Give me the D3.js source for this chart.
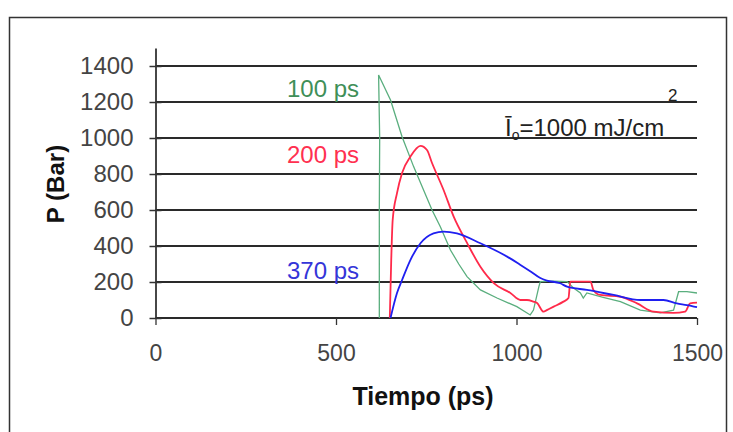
<!DOCTYPE html>
<html>
<head>
<meta charset="utf-8">
<script src="https://cdn.jsdelivr.net/npm/d3@7"></script>
<style>
  body { margin: 0; background: #fff; }
  text { font-family: "Liberation Sans", Arial, sans-serif; }
</style>
</head>
<body>
<svg id="chart" width="733" height="432"></svg>
<script>
// pressure vs time, one series per pulse length
var pulse100 = [[620,0],[620,600],[621,1000],[618,1350],[651,1211],[683,1007],[715,841],[766,600],[789,507],[817,378],[840,300],[863,230],[900,156],[946,111],[1001,63],[1038,17],[1047,44],[1062,174],[1066,202],[1102,205],[1140,202],[1158,167],[1177,139],[1185,111],[1195,139],[1240,115],[1288,91],[1343,44],[1398,28],[1435,44],[1449,146],[1472,146],[1500,139]];
var pulse200 = [[649,0],[653,322],[657,544],[669,694],[683,806],[706,896],[734,956],[752,933],[766,861],[798,711],[826,563],[863,417],[900,285],[937,194],[983,139],[1011,100],[1029,100],[1047,91],[1057,83],[1075,35],[1084,44],[1103,63],[1130,91],[1144,111],[1149,202],[1177,202],[1205,202],[1213,156],[1232,128],[1288,118],[1334,81],[1380,35],[1435,28],[1467,35],[1481,81],[1500,85]];
var pulse370 = [[651,0],[669,139],[683,211],[706,322],[734,415],[770,470],[798,480],[835,470],[900,415],[974,341],[1011,295],[1038,260],[1066,222],[1084,208],[1121,193],[1140,174],[1195,156],[1269,128],[1343,100],[1407,100],[1444,81],[1472,72],[1500,60]];

var yTicks = [0, 200, 400, 600, 800, 1000, 1200, 1400];
var xTicks = [0, 500, 1000, 1500];

var seriesLabels = ["100 ps", "200 ps", "370 ps"];

var svg = d3.select("#chart");

// outer frame
svg.append("rect")
    .attr("x", 9.5).attr("y", 17.5)
    .attr("width", 717).attr("height", 430)
    .style("fill", "none")
    .style("stroke", "#333")
    .style("stroke-width", 1.5);

var plotLeft = 155.5, plotRight = 697, plotTop = 48, plotBottom = 318;

var xScale = d3.scaleLinear().domain([0, 1500]).range([plotLeft, plotRight]);
var yScale = d3.scaleLinear().domain([0, 1500]).range([plotBottom, plotTop]);

// horizontal grid
svg.append("g")
    .selectAll("line")
    .data(yTicks)
    .enter()
    .append("line")
    .attr("x1", plotLeft).attr("x2", plotRight)
    .attr("y1", (d) => yScale(d)).attr("y2", (d) => yScale(d))
    .style("stroke", "#2a2a2a")
    .style("stroke-width", 1.8);

// y axis, ticks crossing the line
var yAxis = svg.append("g")
    .attr("transform", `translate(${plotLeft}, 0)`)
    .call(d3.axisLeft(yScale).tickValues(yTicks).tickFormat(d3.format("d")).tickSize(0).tickPadding(22));
yAxis.select(".domain").style("stroke", "#333").style("stroke-width", 1.8);
yAxis.selectAll(".tick line").remove();
yAxis.selectAll(".tick").append("line")
    .attr("x1", -6).attr("x2", 6)
    .style("stroke", "#333").style("stroke-width", 1.5);
yAxis.selectAll(".tick text")
    .style("font-size", "24px")
    .style("fill", "#444")
    .style("font-family", "'Liberation Sans', Arial, sans-serif");

// x axis
var xAxis = svg.append("g")
    .attr("transform", `translate(0, ${plotBottom})`)
    .call(d3.axisBottom(xScale).tickValues(xTicks).tickFormat(d3.format("d")).tickSize(7).tickPadding(20));
xAxis.select(".domain").remove();
xAxis.selectAll(".tick line").style("stroke", "#333").style("stroke-width", 1.3);
xAxis.selectAll(".tick text")
    .style("font-size", "23px")
    .style("fill", "#444")
    .style("font-family", "'Liberation Sans', Arial, sans-serif");

var line = d3.line()
    .x((d) => xScale(d[0]))
    .y((d) => yScale(d[1]));

var smoothLine = d3.line()
    .curve(d3.curveMonotoneX)
    .x((d) => xScale(d[0]))
    .y((d) => yScale(d[1]));

svg.append("path")
    .datum(pulse100)
    .attr("d", line)
    .style("fill", "none")
    .style("stroke", "#5aae7e")
    .style("stroke-width", 1.3);

svg.append("path")
    .datum(pulse200)
    .attr("d", smoothLine)
    .style("fill", "none")
    .style("stroke", "#ff2a4a")
    .style("stroke-width", 1.8);

svg.append("path")
    .datum(pulse370)
    .attr("d", smoothLine)
    .style("fill", "none")
    .style("stroke", "#1f1ff0")
    .style("stroke-width", 1.8);

// series labels
var labelColors = ["#3f8f58", "#ff3050", "#3535d8"];
var labelY = [97, 163, 279];
svg.selectAll("text.series")
    .data(seriesLabels)
    .enter()
    .append("text")
    .attr("class", "series")
    .attr("x", 287)
    .attr("y", (d, i) => labelY[i])
    .style("font-size", "24px")
    .style("fill", (d, i) => labelColors[i])
    .text((d) => d);

// fluence annotation
var ann = svg.append("text")
    .attr("x", 505)
    .attr("y", 136)
    .style("font-size", "24px")
    .style("fill", "#222");
ann.append("tspan").text("Ī");
ann.append("tspan").attr("dy", 4).style("font-size", "14px").text("o");
ann.append("tspan").attr("dy", -4).text("=1000 mJ/cm");

svg.append("text")
    .attr("x", 668)
    .attr("y", 101)
    .style("font-size", "17px")
    .style("fill", "#222")
    .text("2");

// axis titles
svg.append("text")
    .attr("transform", "translate(64, 184) rotate(-90)")
    .attr("text-anchor", "middle")
    .style("font-size", "24px")
    .style("font-weight", "bold")
    .style("fill", "#111")
    .text("P (Bar)");

svg.append("text")
    .attr("x", 423)
    .attr("y", 405)
    .attr("text-anchor", "middle")
    .style("font-size", "25px")
    .style("font-weight", "bold")
    .style("fill", "#111")
    .text("Tiempo (ps)");
</script>
</body>
</html>
